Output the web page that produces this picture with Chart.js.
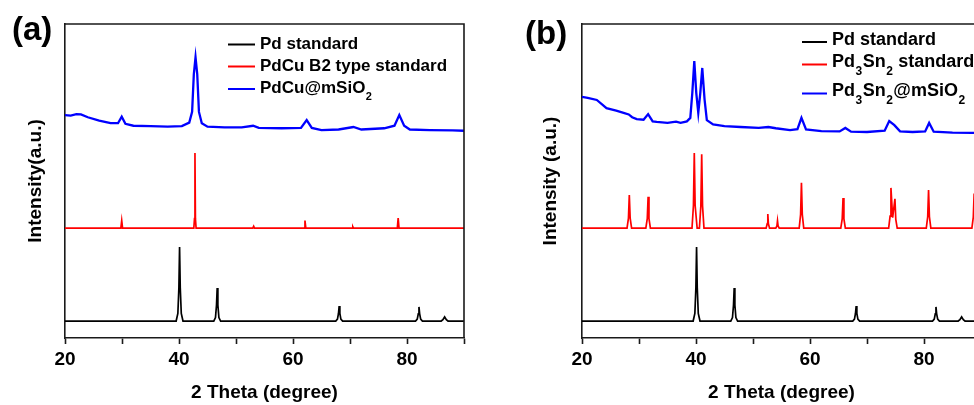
<!DOCTYPE html>
<html><head><meta charset="utf-8">
<script src="https://cdn.jsdelivr.net/npm/chart.js@4.4.1/dist/chart.umd.min.js"></script>
<style>
html,body{margin:0;padding:0;background:#fff;overflow:hidden;width:974px;height:405px;}
#wa{position:absolute;left:0;top:0;width:480px;height:405px;}
#wb{position:absolute;left:490px;top:0;width:484px;height:405px;overflow:hidden;}
canvas{display:block;}
</style></head><body>
<div id="wa"><canvas id="ca" width="480" height="405"></canvas></div>
<div id="wb"><canvas id="cb" width="507" height="405"></canvas></div>
<script>
// ---------- data (2 theta in degrees, intensity in arbitrary offset units) ----------
const xTickLabels = [20, 40, 60, 80];

// Pd standard (same in both panels)
const pdStdX = [20, 39.5, 39.8, 39.98, 40.1, 40.22, 40.4, 40.7, 46.1, 46.4, 46.58, 46.7, 46.82, 47.0, 47.3, 67.5, 67.8, 67.98, 68.1, 68.22, 68.4, 68.7, 81.5, 81.8, 81.98, 82.1, 82.22, 82.4, 82.7, 86.0, 86.3, 86.6, 86.9, 87.2, 90];
const pdStdY = [5.4, 5.4, 7.8, 16.0, 29.0, 16.0, 7.8, 5.4, 5.4, 6.5, 10.5, 15.9, 10.5, 6.5, 5.4, 5.4, 6.0, 7.8, 10.2, 7.8, 6.0, 5.4, 5.4, 6.0, 7.7, 9.9, 7.7, 6.0, 5.4, 5.4, 5.8, 6.7, 5.8, 5.4, 5.4];

// (a) PdCu B2 type standard
const pdcuStdX = [20, 29.8, 29.95, 30.1, 42.6, 42.72, 42.8, 42.88, 43.0, 52.95, 53.1, 53.25, 61.95, 62.1, 62.25, 70.4, 70.5, 70.6, 78.3, 78.45, 78.6, 90];
const pdcuStdY = [35, 35, 37.4, 35, 35, 38, 58.9, 38, 35, 35, 35.6, 35, 35, 37.4, 35, 35, 35.4, 35, 35, 38.2, 35, 35];

// (a) PdCu@mSiO2 measured
const pdcuX = [20, 21, 22, 22.8, 24, 26, 28, 29.3, 29.95, 30.6, 32, 35, 38, 40.5, 41.8, 42.3, 42.6, 42.9, 43.2, 43.5, 44.0, 45, 48, 51, 53.0, 54, 58, 61.4, 62.4, 63.3, 65, 68, 70.6, 72, 76, 77.8, 78.65, 79.5, 80.5, 84, 88, 90];
const pdcuY = [71.0, 70.8, 71.3, 71.2, 70.3, 69.2, 68.4, 68.4, 70.5, 68.2, 67.6, 67.5, 67.3, 67.5, 68.6, 72, 84, 89.4, 84, 72, 68.4, 67.3, 67.1, 67.1, 67.6, 66.9, 66.8, 66.9, 69.4, 66.9, 66.2, 66.4, 67.2, 66.4, 66.8, 67.6, 71.0, 67.6, 66.4, 66.2, 66.1, 66.0];

// (b) Pd3Sn2 standard
const pdsnStdX = [20, 27.9, 28.15, 28.3, 28.45, 28.7, 31.2, 31.45, 31.6, 31.75, 32.0, 39.3, 39.55, 39.7, 39.85, 40.2, 40.6, 40.85, 41.0, 41.15, 41.4, 52.3, 52.5, 52.6, 52.7, 52.9, 54.0, 54.2, 54.3, 54.4, 54.6, 58.1, 58.35, 58.5, 58.65, 58.9, 65.4, 65.65, 65.8, 65.95, 66.2, 73.8, 74.05, 74.2, 74.5, 74.9, 75.05, 75.3, 80.4, 80.65, 80.8, 80.95, 81.2, 88.4, 88.65, 88.8, 88.95, 89.2, 90];
const pdsnStdY = [35, 35, 38.2, 45.5, 38.2, 35, 35, 38.0, 45.0, 38.0, 35, 35, 42.2, 58.9, 42.2, 35, 35, 42.0, 58.5, 42.0, 35, 35, 36.4, 39.5, 36.4, 35, 35, 35.7, 37.3, 35.7, 35, 35, 39.3, 49.4, 39.3, 35, 35, 37.9, 44.6, 37.9, 35, 35, 38.8, 47.8, 38.3, 44.3, 37.8, 35, 35, 38.6, 47.1, 38.6, 35, 35, 38.5, 46, 38.5, 35, 35];

// (b) Pd3Sn2@mSiO2 measured
const pdsnX = [20, 21, 22.6, 24.3, 26, 27.3, 28.2, 28.8, 29.6, 30.8, 31.6, 32.4, 33.1, 35.0, 36.5, 37.3, 38.4, 39.0, 39.35, 39.7, 40.05, 40.4, 40.75, 41.1, 41.5, 41.9, 43.0, 45, 47.8, 51, 52.7, 54, 56.5, 57.8, 58.5, 59.3, 62, 65.2, 66.2, 67.2, 70, 73.1, 73.9, 74.8, 75.8, 78, 80.2, 80.9, 81.7, 85, 88.4, 90];
const pdsnY = [76.8, 76.5, 75.8, 73.2, 72.4, 71.7, 71.2, 70.3, 69.7, 69.5, 71.3, 69.0, 68.8, 68.5, 68.9, 68.5, 69.0, 70.1, 78, 88.2, 78, 71.7, 78, 86.0, 76, 69.4, 68.0, 67.5, 67.2, 66.9, 67.2, 66.8, 66.2, 66.5, 70.1, 66.4, 65.9, 65.8, 66.9, 65.7, 65.6, 66.0, 69.1, 67.8, 65.8, 65.6, 65.8, 68.5, 65.7, 65.4, 65.3, 65.3];

const labelsA = ['Pd standard', 'PdCu B2 type standard', 'PdCu@mSiO₂'];
const labelsB = ['Pd standard', 'Pd₃Sn₂ standard', 'Pd₃Sn₂@mSiO₂'];
const colors = ['#000000', '#ff0000', '#0000ff'];

// ---------- helpers ----------
const FONT = '"Liberation Sans", Arial, Helvetica, sans-serif';
const AXIS = '#1a1a1a';
const pts = (xs, ys) => xs.map((x, i) => ({ x: x, y: ys[i] }));

function drawRich(ctx, text, x, y, size) {
  const sub = { '₀':'0','₁':'1','₂':'2','₃':'3','₄':'4','₅':'5','₆':'6','₇':'7','₈':'8','₉':'9' };
  let cx = x;
  ctx.textBaseline = 'middle';
  ctx.textAlign = 'left';
  ctx.fillStyle = '#000';
  for (const ch of text) {
    if (sub[ch]) {
      ctx.font = 'bold ' + Math.round(size * 0.64) + 'px ' + FONT;
      ctx.fillText(sub[ch], cx + 0.5, y + size * 0.52);
      cx += ctx.measureText(sub[ch]).width + 1;
    } else {
      ctx.font = 'bold ' + size + 'px ' + FONT;
      ctx.fillText(ch, cx, y);
      cx += ctx.measureText(ch).width;
    }
  }
}

const xrdLegend = {
  id: 'xrdLegend',
  afterDraw(chart, args, o) {
    const { ctx, chartArea } = chart;
    ctx.save();
    chart.data.datasets.forEach((ds, i) => {
      const y = chartArea.top + o.rows[i];
      ctx.strokeStyle = ds.borderColor;
      ctx.lineWidth = 2;
      ctx.beginPath();
      ctx.moveTo(chartArea.left + o.lineX0, y + o.lineDy);
      ctx.lineTo(chartArea.left + o.lineX1, y + o.lineDy);
      ctx.stroke();
      drawRich(ctx, ds.label, chartArea.left + o.textX, y, o.size);
    });
    ctx.restore();
  }
};

const panelTag = {
  id: 'panelTag',
  afterDraw(chart, args, o) {
    const ctx = chart.ctx;
    ctx.save();
    ctx.font = 'bold ' + o.size + 'px ' + FONT;
    ctx.fillStyle = '#000';
    ctx.textAlign = 'left';
    ctx.textBaseline = 'middle';
    ctx.fillText(o.text, o.x, o.y);
    ctx.restore();
  }
};

const frame = {
  id: 'frame',
  afterDatasetsDraw(chart) {
    const { ctx, chartArea: a } = chart;
    ctx.save();
    ctx.strokeStyle = AXIS;
    ctx.lineWidth = 1.6;
    ctx.beginPath();
    ctx.moveTo(a.left, a.top);
    ctx.lineTo(a.right, a.top);
    ctx.lineTo(a.right, a.bottom);
    ctx.stroke();
    ctx.restore();
  }
};

function makeChart(canvas, p) {
  const series = [
    pts(pdStdX, pdStdY),
    p.stdPts,
    p.samplePts
  ];
  return new Chart(canvas, {
    type: 'line',
    data: {
      datasets: series.map((d, i) => ({
        label: p.labels[i],
        data: d,
        borderColor: colors[i],
        borderWidth: i === 2 ? 2.3 : 1.7,
        pointRadius: 0,
        fill: false,
        tension: 0
      }))
    },
    options: {
      responsive: false,
      animation: false,
      layout: { padding: { top: 24, right: 16, left: 0, bottom: 0 } },
      plugins: {
        legend: { display: false },
        tooltip: { enabled: false },
        xrdLegend: p.legend,
        panelTag: p.tag
      },
      scales: {
        x: {
          type: 'linear', min: 20, max: 90,
          ticks: {
            stepSize: 10, autoSkip: false, maxRotation: 0, padding: 4,
            color: '#000', font: { family: FONT, size: 19, weight: 'bold' },
            callback: v => (xTickLabels.includes(v) ? String(v) : '')
          },
          grid: { display: true, drawOnChartArea: false, drawTicks: true, tickLength: 6, tickColor: AXIS, tickWidth: 1.6 },
          border: { display: true, color: AXIS, width: 1.6 },
          title: { display: true, text: '2 Theta (degree)', color: '#000',
                   font: { family: FONT, size: 19, weight: 'bold' }, padding: { top: 0, bottom: 1 } },
          afterFit(s) { s.height = 67; }
        },
        y: {
          min: 0, max: 100,
          ticks: { display: false },
          grid: { display: false },
          border: { display: true, color: AXIS, width: 1.6 },
          title: { display: true, text: p.yTitle, color: '#000',
                   font: { family: FONT, size: 19, weight: 'bold' }, padding: { top: p.yTitlePad, bottom: 0 } },
          afterFit(s) { s.width = p.yWidth; }
        }
      }
    },
    plugins: [frame, xrdLegend, panelTag]
  });
}

makeChart(document.getElementById('ca'), {
  labels: labelsA,
  stdPts: pts(pdcuStdX, pdcuStdY),
  samplePts: pts(pdcuX, pdcuY),
  yTitle: 'Intensity(a.u.)',
  yTitlePad: 24,
  yWidth: 65,
  legend: { rows: [20, 42, 64.5], lineX0: 163, lineX1: 190, lineDy: 0.5, textX: 195, size: 17 },
  tag: { text: '(a)', x: 12, y: 31, size: 33 }
});

makeChart(document.getElementById('cb'), {
  labels: labelsB,
  stdPts: pts(pdsnStdX, pdsnStdY),
  samplePts: pts(pdsnX, pdsnY),
  yTitle: 'Intensity (a.u.)',
  yTitlePad: 49,
  yWidth: 92,
  legend: { rows: [16, 38.5, 67.5], lineX0: 220, lineX1: 245, lineDy: 2, textX: 250, size: 18 },
  tag: { text: '(b)', x: 35, y: 35, size: 33 }
});
</script>
</body></html>
